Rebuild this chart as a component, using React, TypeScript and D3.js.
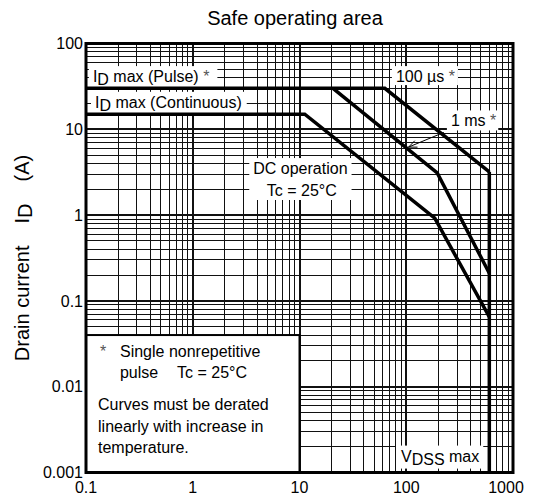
import { useEffect, useRef } from "react";
import * as d3 from "d3";

const W = 533;
const H = 499;

// axis ticks
const xTickValues = [0.1, 1, 10, 100, 1000];
const xTickLabels = ["0.1", "1", "10", "100", "1000"];
const yTickValues = [0.001, 0.01, 0.1, 1, 10, 100];
const yTickLabels = ["0.001", "0.01", "0.1", "1", "10", "100"];

// SOA boundaries, [V_DS (V), I_D (A)]
const pulse100us: [number, number][] = [[0.1, 30], [63, 30], [600, 3.2]];
const pulse1ms: [number, number][] = [[20.6, 30], [195, 3.1], [600, 0.21]];
const dcOperation: [number, number][] = [[0.1, 15], [11.2, 15], [185, 0.92], [600, 0.065]];
const vdssMax: [number, number][] = [[600, 3.2], [600, 0.001]];

type Part = { t: string; sub?: boolean };

export default function App() {
  const svgRef = useRef<SVGSVGElement>(null);

  useEffect(() => {
    if (!svgRef.current) return;
    const svg = d3.select(svgRef.current);
    svg.selectAll("*").remove();

    const font = "'Liberation Sans', Arial, Helvetica, sans-serif";
    const x = d3.scaleLog().domain([0.1, 1000]).range([86, 513]);
    const y = d3.scaleLog().domain([0.001, 100]).range([472.5, 43.5]);

    // log grid: 1..9 in every decade
    const gridVals = (lo: number, hi: number) => {
      const out: { v: number; major: boolean }[] = [];
      for (let e = lo; e < hi; e++) {
        for (let k = 1; k <= 9; k++) out.push({ v: k * Math.pow(10, e), major: k === 1 });
      }
      out.push({ v: Math.pow(10, hi), major: true });
      return out;
    };

    const grid = svg.append("g").attr("shape-rendering", "crispEdges").attr("stroke", "#111");
    grid.selectAll("line.v")
      .data(gridVals(-1, 3))
      .join("line")
      .attr("class", "v")
      .attr("x1", d => x(d.v)).attr("x2", d => x(d.v))
      .attr("y1", y(100)).attr("y2", y(0.001))
      .attr("stroke-width", d => (d.major ? 2 : 1));
    grid.selectAll("line.h")
      .data(gridVals(-3, 2))
      .join("line")
      .attr("class", "h")
      .attr("y1", d => y(d.v)).attr("y2", d => y(d.v))
      .attr("x1", x(0.1)).attr("x2", x(1000))
      .attr("stroke-width", d => (d.major ? 2 : 1));

    // note box, lower left
    svg.append("rect")
      .attr("x", x(0.1)).attr("y", y(0.04))
      .attr("width", x(10) - x(0.1)).attr("height", y(0.001) - y(0.04))
      .attr("fill", "white").attr("stroke", "#000").attr("stroke-width", 2);

    // labels with a white background
    const label = (
      parts: Part[], vx: number, vy: number, anchor: string,
      pad: [number, number, number, number]
    ) => {
      const g = svg.append("g");
      const rect = g.append("rect").attr("fill", "white");
      const text = g.append("text")
        .attr("x", x(vx)).attr("y", y(vy))
        .attr("text-anchor", anchor)
        .attr("font-family", font).attr("font-size", 16)
        .style("white-space", "pre");
      let shifted = false;
      parts.forEach(p => {
        const ts = text.append("tspan").text(p.t);
        if (p.sub && !shifted) { ts.attr("dy", 3); shifted = true; }
        else if (!p.sub && shifted) { ts.attr("dy", -3); shifted = false; }
        if (p.t.trim() === "*") ts.attr("fill", "#555");
      });
      const b = (text.node() as SVGTextElement).getBBox();
      rect.attr("x", b.x - pad[3]).attr("y", b.y - pad[0])
        .attr("width", b.width + pad[1] + pad[3])
        .attr("height", b.height + pad[0] + pad[2]);
      return g;
    };

    label([{ t: "I" }, { t: "D", sub: true }, { t: " max (Pulse) " }, { t: "*" }],
      0.116, 35.5, "start", [2, 8, 0, 4]);
    label([{ t: "I" }, { t: "D", sub: true }, { t: " max (Continuous)" }],
      0.1214, 17.8, "start", [2, 5, 0, 4]);
    label([{ t: "100 µs " }, { t: "*" }], 80, 35.5, "start", [2, 3, 0, 4]);
    label([{ t: "1 ms " }, { t: "*" }], 262, 10.8, "start", [2, 2, 1, 4]);
    label([{ t: "V" }, { t: "DSS", sub: true }, { t: " max" }], 89.3, 0.00134, "start", [2, 4, 1, 5]);

    // DC operation box (two lines, one background)
    const dcG = svg.append("g");
    const dcRect = dcG.append("rect").attr("fill", "white");
    const dc1 = dcG.append("text").attr("x", x(10.2)).attr("y", y(3.01))
      .attr("text-anchor", "middle").attr("font-family", font).attr("font-size", 16)
      .text("DC operation");
    const dc2 = dcG.append("text").attr("x", x(10.5)).attr("y", y(1.67))
      .attr("text-anchor", "middle").attr("font-family", font).attr("font-size", 16)
      .text("Tc = 25°C");
    const b1 = (dc1.node() as SVGTextElement).getBBox();
    const b2 = (dc2.node() as SVGTextElement).getBBox();
    const bx0 = Math.min(b1.x, b2.x) - 4;
    const bx1 = Math.max(b1.x + b1.width, b2.x + b2.width) + 4;
    dcRect.attr("x", bx0).attr("y", b1.y - 2).attr("width", bx1 - bx0).attr("height", b2.y + b2.height - b1.y + 3);

    // curves
    const line = d3.line<[number, number]>().x(d => x(d[0])).y(d => y(d[1]));
    [pulse100us, pulse1ms, dcOperation, vdssMax].forEach(c => {
      svg.append("path")
        .attr("d", line(c))
        .attr("fill", "none")
        .attr("stroke", "#000")
        .attr("stroke-width", 3.5)
        .attr("stroke-linejoin", "miter");
    });

    // arrow pointing to the 1 ms line
    const ax0 = x(225), ay0 = y(9.2), ax1 = x(105), ay1 = y(6.2);
    const ang = Math.atan2(ay1 - ay0, ax1 - ax0);
    const ah = 9;
    svg.append("path")
      .attr("d",
        `M${ax0},${ay0}L${ax1},${ay1}` +
        `M${ax1 - ah * Math.cos(ang - 0.4)},${ay1 - ah * Math.sin(ang - 0.4)}L${ax1},${ay1}` +
        `L${ax1 - ah * Math.cos(ang + 0.4)},${ay1 - ah * Math.sin(ang + 0.4)}`)
      .attr("fill", "none").attr("stroke", "#000").attr("stroke-width", 1);

    // note text
    const note = svg.append("g").attr("font-family", font).attr("font-size", 16).attr("fill", "#000");
    note.append("text").attr("x", x(0.135)).attr("y", y(0.0222)).attr("fill", "#555").text("*");
    note.append("text").attr("x", x(0.208)).attr("y", y(0.0222)).text("Single nonrepetitive");
    note.append("text").attr("x", x(0.208)).attr("y", y(0.0126)).text("pulse");
    note.append("text").attr("x", x(0.712)).attr("y", y(0.0126)).text("Tc = 25°C");
    note.append("text").attr("x", x(0.1296)).attr("y", y(0.00535)).text("Curves must be derated");
    note.append("text").attr("x", x(0.1296)).attr("y", y(0.00297)).text("linearly with increase in");
    note.append("text").attr("x", x(0.1296)).attr("y", y(0.00169)).text("temperature.");

    // frame
    svg.append("rect")
      .attr("x", x(0.1)).attr("y", y(100))
      .attr("width", x(1000) - x(0.1)).attr("height", y(0.001) - y(100))
      .attr("fill", "none").attr("stroke", "#000").attr("stroke-width", 3);

    // tick labels
    const ticks = svg.append("g").attr("font-family", font).attr("font-size", 16).attr("fill", "#000");
    ticks.selectAll("text.x")
      .data(xTickValues)
      .join("text")
      .attr("class", "x")
      .attr("x", d => x(d)).attr("y", 493)
      .attr("dx", (_, i) => (i === xTickValues.length - 1 ? -7 : 0))
      .attr("text-anchor", "middle")
      .text((_, i) => xTickLabels[i]);
    ticks.selectAll("text.y")
      .data(yTickValues)
      .join("text")
      .attr("class", "y")
      .attr("x", 83).attr("y", d => y(d))
      .attr("dy", "0.35em")
      .attr("text-anchor", "end")
      .text((_, i) => yTickLabels[i]);

    // title
    svg.append("text")
      .attr("x", 295).attr("y", 25)
      .attr("text-anchor", "middle")
      .attr("font-family", font).attr("font-size", 20)
      .text("Safe operating area");

    // y axis title
    const yl = svg.append("text")
      .attr("transform", `translate(29,${(y(100) + y(0.001)) / 2}) rotate(-90)`)
      .attr("text-anchor", "middle")
      .attr("font-family", font).attr("font-size", 20);
    yl.append("tspan").text("Drain current");
    yl.append("tspan").attr("dx", 22).text("I");
    yl.append("tspan").attr("dy", 3).text("D");
    yl.append("tspan").attr("dx", 22).attr("dy", -3).text("(A)");
  }, []);

  return (
    <svg
      ref={svgRef}
      width={W}
      height={H}
      style={{ position: "absolute", left: 0, top: 0, background: "white" }}
    />
  );
}
